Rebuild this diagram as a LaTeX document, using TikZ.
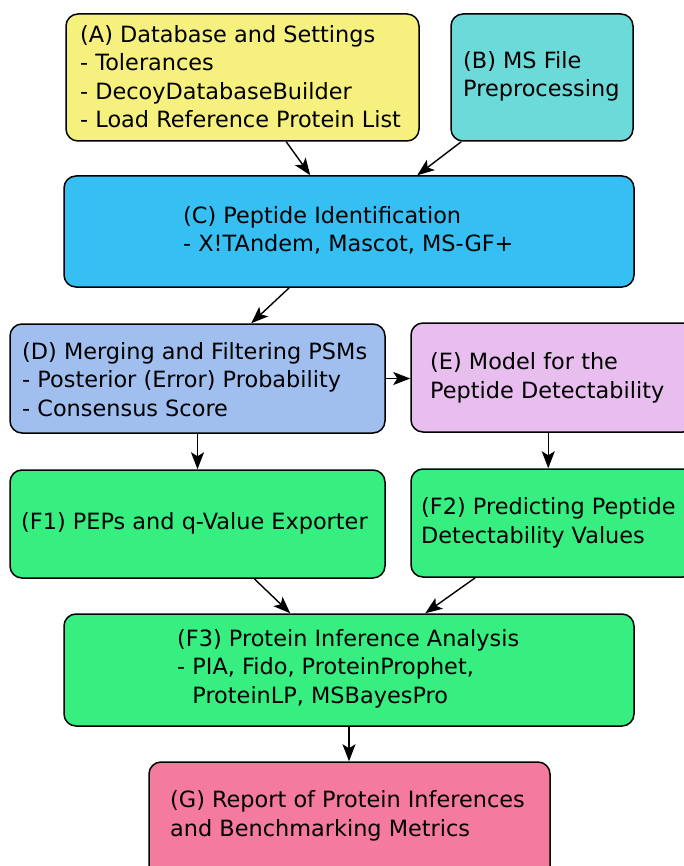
\documentclass[tikz,border=0pt]{standalone}
\usepackage{fontspec}
\setmainfont{DejaVu Sans}
\usetikzlibrary{arrows.meta}
\definecolor{cA}{HTML}{F6F07E}
\definecolor{cB}{HTML}{6BDAD8}
\definecolor{cC}{HTML}{35BFF3}
\definecolor{cD}{HTML}{A0BFEF}
\definecolor{cE}{HTML}{E8BEEF}
\definecolor{cF}{HTML}{37EF81}
\definecolor{cG}{HTML}{F47A9E}
\begin{document}
\begin{tikzpicture}[x=1pt,y=-1pt,
  box/.style={draw=black, line width=1.5pt, rounded corners=12pt, inner sep=0pt},
  % base anchor of a multi-line label sits on its last line
  txt/.style={anchor=base west, inner sep=0pt, align=left,
    font=\fontsize{22.4}{28.5}\selectfont},
  arr/.style={line width=1.4pt, -{Stealth[length=17pt,width=13pt,inset=4pt]}}]
\useasboundingbox (0,0) rectangle (683,866);
\fill[white] (0,0) rectangle (683,866);

% boxes
\node[box, fill=cA, minimum width=353pt, minimum height=127pt] (A) at (242.5,77.5) {};
\node[box, fill=cB, minimum width=182pt, minimum height=127pt] (B) at (542,77.5) {};
\node[box, fill=cC, minimum width=570pt, minimum height=111pt] (C) at (349,231.5) {};
\node[box, fill=cD, minimum width=375pt, minimum height=109pt] (D) at (197.5,378.5) {};
\node[box, fill=cE, minimum width=284pt, minimum height=109pt] (E) at (553,377.5) {};
\node[box, fill=cF, minimum width=375pt, minimum height=108pt] (F1) at (197.5,524) {};
\node[box, fill=cF, minimum width=284pt, minimum height=108pt] (F2) at (553,523) {};
\node[box, fill=cF, minimum width=570pt, minimum height=112pt] (F3) at (349,670) {};
\node[box, fill=cG, minimum width=401pt, minimum height=118pt] (G) at (349.5,821) {};

% labels
\node[txt] (tA) at (80,128) {(A) Database and Settings\\- Tolerances\\- DecoyDatabaseBuilder\\- Load Reference Protein List};
\node[txt] (tB) at (463,97) {(B) MS File\\Preprocessing};
\node[txt] (tC) at (183,252) {(C) Peptide Identification\\- X!TAndem, Mascot, MS-GF+};
\node[txt] (tD) at (22,416) {(D) Merging and Filtering PSMs\\- Posterior (Error) Probability\\- Consensus Score};
\node[txt] (tE) at (430,398) {(E) Model for the\\Peptide Detectability};
\node[txt] (tF1) at (21,529) {(F1) PEPs and q-Value Exporter};
\node[txt] (tF2) at (421,543) {(F2) Predicting Peptide\\Detectability Values};
\node[txt] (tF3) at (177,703) {(F3) Protein Inference Analysis\\- PIA, Fido, ProteinProphet,\\\hphantom{- }ProteinLP, MSBayesPro};
\node[txt] (tG) at (170,836) {(G) Report of Protein Inferences\\and Benchmarking Metrics};

% connectors
\draw[arr] ([xshift=221pt]A.south west) -- ([xshift=247pt]C.north west);
\draw[arr] ([xshift=11pt]B.south west) -- ([xshift=354pt]C.north west);
\draw[arr] ([xshift=226pt]C.south west) -- ([xshift=242pt]D.north west);
\draw[arr] (D.east) -- (D.east -| E.west);
\draw[arr] (D.south) -- (D.south |- F1.north);
\draw[arr] ([xshift=138pt]E.south west) -- ([xshift=138pt]F2.north west);
\draw[arr] ([xshift=245pt]F1.south west) -- ([xshift=227pt]F3.north west);
\draw[arr] ([xshift=65pt]F2.south west) -- ([xshift=362pt]F3.north west);
\draw[arr] (F3.south) -- (F3.south |- G.north);
\end{tikzpicture}
\end{document}
